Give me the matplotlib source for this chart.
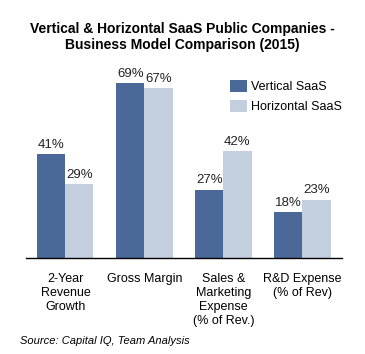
import numpy as np
import matplotlib
matplotlib.use('Agg')
import matplotlib.pyplot as plt

plt.rcParams['font.family'] = ['Liberation Sans', 'DejaVu Sans']

categories = ['2-Year\nRevenue\nGrowth', 'Gross Margin',
              'Sales &\nMarketing\nExpense\n(% of Rev.)', 'R&D Expense\n(% of Rev)']
vertical = [41, 69, 27, 18]
horizontal = [29, 67, 42, 23]
series_names = ['Vertical SaaS', 'Horizontal SaaS']

dark = '#4A6898'
light = '#C3CEDF'

fig = plt.figure(figsize=(3.65, 3.54), dpi=100)
ax = fig.add_axes([0.071, 0.271, 0.866, 0.538])

x = np.arange(len(categories))
w = 0.355
b1 = ax.bar(x - w / 2, vertical, w, color=dark, label=series_names[0])
b2 = ax.bar(x + w / 2, horizontal, w, color=light, label=series_names[1])

for bars, vals in ((b1, vertical), (b2, horizontal)):
    for r, v in zip(bars, vals):
        ax.text(r.get_x() + r.get_width() / 2, v + 1.3, '%d%%' % v,
                ha='center', va='bottom', fontsize=9.5, color='#222222')

ax.set_xlim(-0.5, 3.5)
ax.set_ylim(0, 75)
ax.set_yticks([])
ax.set_xticks(x)
ax.set_xticklabels(categories, fontsize=9, linespacing=1.2)
ax.tick_params(axis='x', length=0, pad=11)
for s in ['top', 'right', 'left']:
    ax.spines[s].set_visible(False)
ax.spines['bottom'].set_linewidth(1.0)

ax.legend(loc='upper left', bbox_to_anchor=(0.623, 0.974), frameon=False,
          fontsize=9, handlelength=1.3, handleheight=1.1, handletextpad=0.35,
          labelspacing=0.5, borderaxespad=0.2)

fig.text(0.5, 0.895, 'Vertical & Horizontal SaaS Public Companies -\nBusiness Model Comparison (2015)',
         ha='center', va='center', fontsize=10, fontweight='bold', linespacing=1.15)
fig.text(0.055, 0.037, 'Source: Capital IQ, Team Analysis', fontsize=8,
         style='italic', ha='left', va='center')

fig.savefig('out.png', dpi=100)
